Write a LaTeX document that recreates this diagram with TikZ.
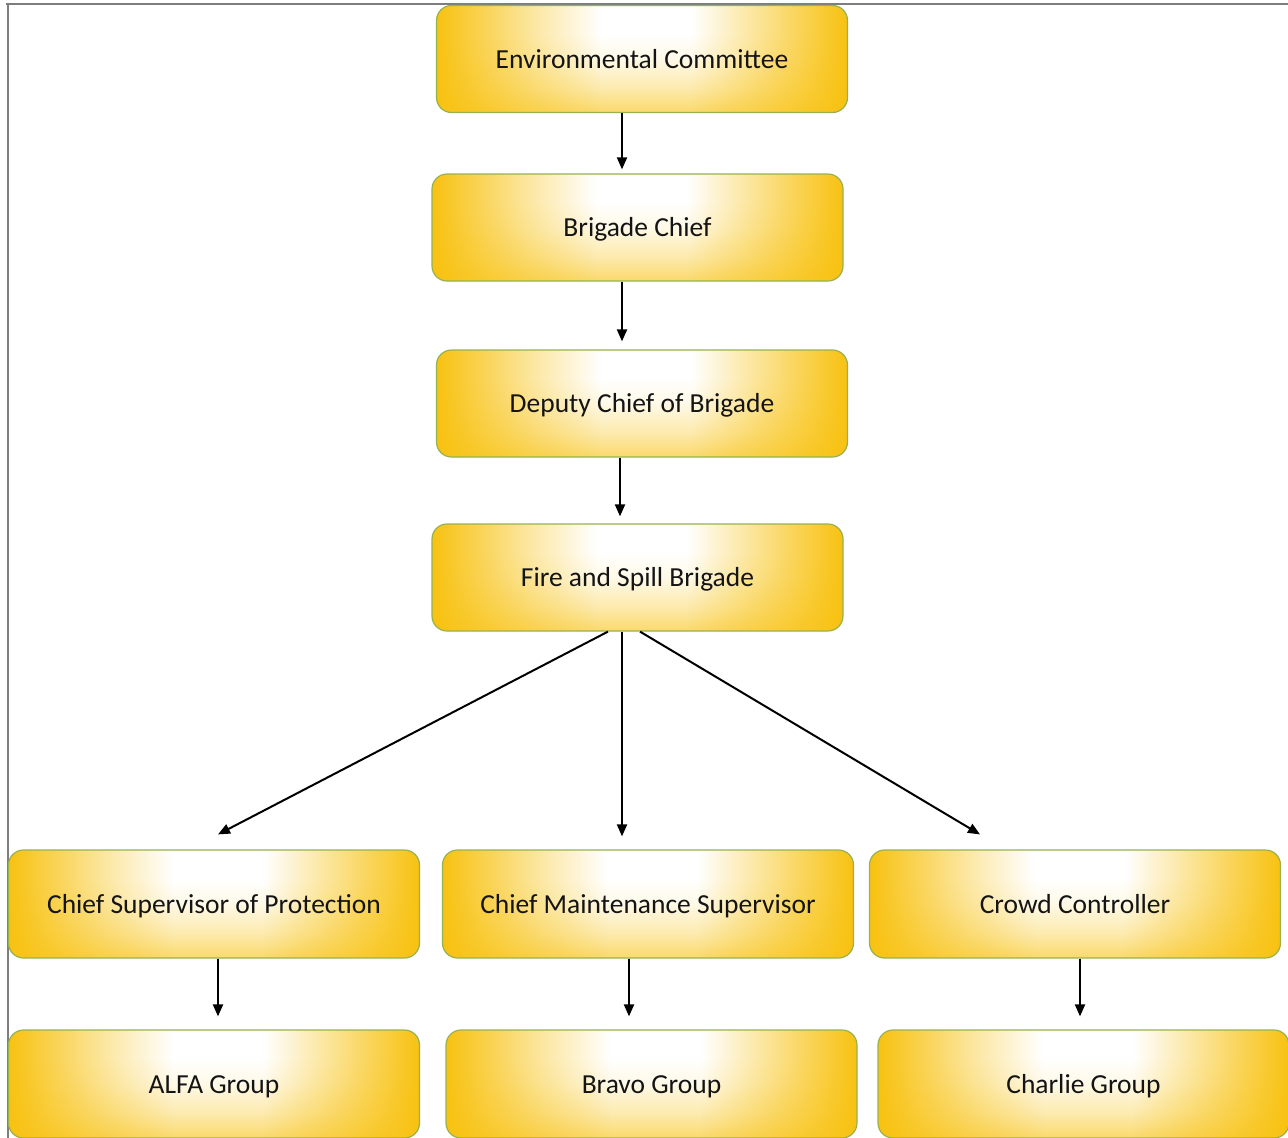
\documentclass[tikz,border=0pt]{standalone}
\usepackage{fontspec}
\setmainfont{Carlito}
\usetikzlibrary{arrows.meta,calc,fadings}
\definecolor{gold}{RGB}{248,194,16}
\definecolor{edgegreen}{RGB}{150,178,80}
\definecolor{framegray}{RGB}{125,125,125}
\definecolor{txt}{RGB}{20,20,20}
\pgfdeclarehorizontalshading{sidefadeshade}{100bp}{color(0bp)=(pgftransparent!0); color(25bp)=(pgftransparent!0); color(30bp)=(pgftransparent!25); color(37bp)=(pgftransparent!62); color(45bp)=(pgftransparent!100); color(56bp)=(pgftransparent!100); color(63bp)=(pgftransparent!62); color(70bp)=(pgftransparent!25); color(75bp)=(pgftransparent!0); color(100bp)=(pgftransparent!0)}
\pgfdeclarefading{sidefade}{\pgfuseshading{sidefadeshade}}
\pgfdeclareverticalshading{vbase}{100bp}{color(0bp)=(gold!62!white); color(25bp)=(gold!62!white); color(36bp)=(gold!35!white); color(50bp)=(gold!10!white); color(62bp)=(white); color(100bp)=(white)}
\tikzset{
  box/.style={draw=edgegreen, line width=1.2pt, rounded corners=15pt,
    path picture={
      \shade[shading=vbase]
        (path picture bounding box.south west) rectangle (path picture bounding box.north east);
      \fill[gold, path fading=sidefade]
        (path picture bounding box.south west) rectangle (path picture bounding box.north east);},
    minimum width=411pt, minimum height=107pt, inner sep=0pt,
    font=\fontsize{27.5}{33}\selectfont, text=txt, text height=18pt, text depth=0pt},
  arr/.style={-{Triangle[width=10pt,length=12pt]}, line width=2pt, draw=black}
}
\begin{document}
\begin{tikzpicture}[x=1pt,y=-1pt]
\useasboundingbox (0,0) rectangle (1288,1138);
\clip (0,0) rectangle (1288,1138);
% frame
\draw[framegray, line width=2pt] (6,3.5) -- (1290,3.5);
\draw[framegray, line width=2pt] (8,3.5) -- (8,1140);
% nodes
\node[box] (env) at (642,59) {Environmental Committee};
\node[box] (brig) at (637.5,227.5) {Brigade Chief};
\node[box] (dep) at (642,403.5) {Deputy Chief of Brigade};
\node[box] (fire) at (637.5,577.5) {Fire and Spill Brigade};
\node[box, minimum height=108pt] (csp) at (214,904) {Chief Supervisor of Protection};
\node[box, minimum height=108pt] (cms) at (648,904) {Chief Maintenance Supervisor};
\node[box, minimum height=108pt] (cc) at (1075,904) {Crowd Controller};
\node[box, minimum height=108pt] (alfa) at (214,1084) {ALFA Group};
\node[box, minimum height=108pt] (bravo) at (651.5,1084) {Bravo Group};
\node[box, minimum height=108pt] (charlie) at (1083.5,1084) {Charlie Group};
% arrow x positions
\coordinate (xa) at (622,0);
\coordinate (xb) at (620,0);
\coordinate (xl) at (608,0);
\coordinate (xr) at (640,0);
\coordinate (xp) at (218,0);
\coordinate (xq) at (629,0);
\coordinate (xs) at (1080,0);
% connectors
\draw[arr, shorten >=4pt] (env.south -| xa) -- (brig.north -| xa);
\draw[arr, shorten >=8pt] (brig.south -| xa) -- (dep.north -| xa);
\draw[arr, shorten >=7pt] (dep.south -| xb) -- (fire.north -| xb);
\draw[arr] (fire.south -| xl) -- ($(csp.north)+(4,-15)$);
\draw[arr, shorten >=13pt] (fire.south -| xa) -- (cms.north -| xa);
\draw[arr] (fire.south -| xr) -- ($(cc.north)+(-95,-15)$);
\draw[arr, shorten >=13pt] (csp.south -| xp) -- (alfa.north -| xp);
\draw[arr, shorten >=13pt] (cms.south -| xq) -- (bravo.north -| xq);
\draw[arr, shorten >=13pt] (cc.south -| xs) -- (charlie.north -| xs);
\end{tikzpicture}
\end{document}
